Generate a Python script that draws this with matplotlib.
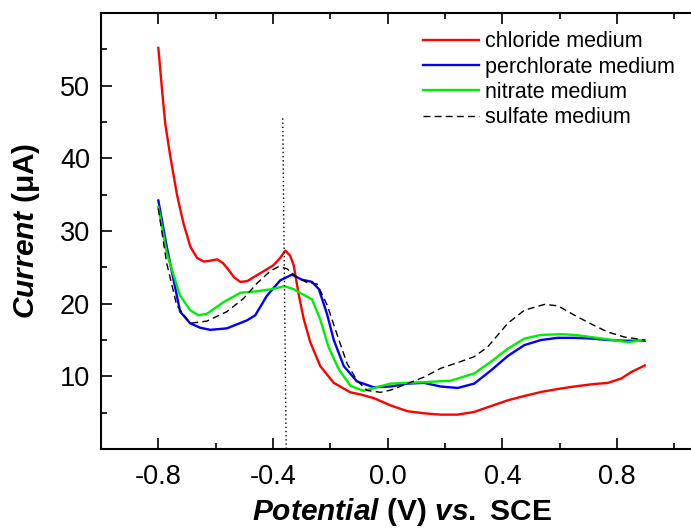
import matplotlib
matplotlib.use("Agg")
import matplotlib.pyplot as plt

plt.rcParams["font.family"] = ["Liberation Sans", "DejaVu Sans"]
plt.rcParams["mathtext.fontset"] = "custom"
plt.rcParams["mathtext.it"] = "Liberation Sans:italic:bold"
plt.rcParams["mathtext.rm"] = "Liberation Sans:bold"

# chloride medium (red)
cl_x = [-0.8, -0.787, -0.776, -0.758, -0.735, -0.712, -0.688, -0.665, -0.642, -0.62, -0.595,
        -0.575, -0.56, -0.535, -0.514, -0.49, -0.444, -0.398, -0.375, -0.357, -0.34, -0.328,
        -0.31, -0.293, -0.27, -0.235, -0.188, -0.13, -0.094, -0.048, 0.01, 0.069, 0.13, 0.185,
        0.244, 0.302, 0.36, 0.419, 0.477, 0.535, 0.6, 0.652, 0.71, 0.768, 0.815, 0.85, 0.897]
cl_y = [55.2, 49.4, 44.8, 40.2, 35.0, 31.0, 27.8, 26.3, 25.8, 25.9, 26.1,
        25.6, 24.9, 23.6, 23.0, 23.1, 24.2, 25.3, 26.3, 27.3, 26.6, 25.3,
        21.2, 17.9, 14.7, 11.4, 9.1, 7.8, 7.5, 7.0, 6.0, 5.2, 4.9, 4.73,
        4.73, 5.1, 5.9, 6.7, 7.3, 7.85, 8.3, 8.6, 8.9, 9.1, 9.7, 10.6, 11.5]

# perchlorate medium (blue)
pc_x = [-0.8, -0.771, -0.724, -0.689, -0.655, -0.619, -0.561, -0.491, -0.462, -0.421,
        -0.375, -0.334, -0.299, -0.264, -0.24, -0.211, -0.188, -0.153, -0.107, -0.049,
        0.01, 0.069, 0.127, 0.185, 0.244, 0.302, 0.36, 0.419, 0.477, 0.535, 0.594,
        0.652, 0.71, 0.768, 0.827, 0.897]
pc_y = [34.2, 27.9, 18.9, 17.3, 16.7, 16.4, 16.6, 17.7, 18.4, 21.1,
        23.2, 24.0, 23.3, 23.0, 22.0, 18.5, 15.0, 11.4, 9.3, 8.5,
        8.6, 9.0, 9.1, 8.6, 8.4, 9.0, 10.8, 12.8, 14.3, 15.0, 15.3,
        15.3, 15.2, 15.0, 14.9, 14.9]

# nitrate medium (green)
ni_x = [-0.8, -0.771, -0.724, -0.689, -0.66, -0.631, -0.573, -0.514, -0.456, -0.404,
        -0.361, -0.328, -0.293, -0.264, -0.235, -0.206, -0.171, -0.13, -0.084, -0.048,
        0.01, 0.069, 0.127, 0.22, 0.302, 0.36, 0.419, 0.477, 0.535, 0.605, 0.652,
        0.71, 0.768, 0.838, 0.897]
ni_y = [33.3, 27.0, 21.1, 19.1, 18.4, 18.6, 20.2, 21.5, 21.7, 22.0,
        22.4, 22.0, 21.2, 20.6, 17.8, 14.0, 11.0, 8.7, 8.0, 8.4,
        9.0, 9.1, 9.2, 9.4, 10.4, 12.0, 13.8, 15.2, 15.7, 15.8, 15.7,
        15.4, 15.1, 14.7, 15.0]

# sulfate medium (black dashed)
su_x = [-0.8, -0.771, -0.736, -0.689, -0.631, -0.561, -0.503, -0.456, -0.409, -0.38,
        -0.351, -0.316, -0.281, -0.246, -0.211, -0.176, -0.141, -0.106, -0.072, -0.025,
        0.01, 0.069, 0.127, 0.185, 0.245, 0.302, 0.349, 0.419, 0.477, 0.547, 0.594,
        0.652, 0.71, 0.768, 0.827, 0.897]
su_y = [33.1, 25.6, 19.8, 17.3, 17.6, 18.9, 20.7, 22.8, 24.5, 25.1,
        24.8, 23.6, 22.9, 22.7, 19.8, 15.7, 11.7, 9.4, 8.06, 7.8,
        8.1, 9.0, 9.9, 11.1, 11.9, 12.7, 14.05, 17.3, 19.1, 19.9, 19.7,
        18.4, 17.2, 16.1, 15.4, 15.0]

# dotted guide line
guide_x = [-0.366, -0.354]
guide_y = [45.5, 0]

fig = plt.figure(figsize=(6.91, 5.31), dpi=100)
ax = fig.add_axes([101 / 691, 82 / 531, 602 / 691, 436 / 531])

ax.plot(cl_x, cl_y, color="#ff0000", lw=1.7, label="chloride medium")
ax.plot(pc_x, pc_y, color="#0000ff", lw=1.7, label="perchlorate medium")
ax.plot(ni_x, ni_y, color="#00ee00", lw=1.7, label="nitrate medium")
ax.plot(su_x, su_y, color="black", lw=1.0, ls=(0, (5, 3)), label="sulfate medium")
ax.plot(guide_x, guide_y, color="black", lw=1.0, ls=(0, (1, 2)))

ax.set_xlim(-1.0, 1.1)
ax.set_ylim(0, 60)
ax.set_xticks([-0.8, -0.4, 0.0, 0.4, 0.8])
ax.set_xticklabels(["-0.8", "-0.4", "0.0", "0.4", "0.8"])
ax.set_xticks([-1.0, -0.6, -0.2, 0.2, 0.6, 1.0], minor=True)
ax.set_yticks([10, 20, 30, 40, 50])
ax.set_yticks([5, 15, 25, 35, 45, 55], minor=True)
ax.tick_params(which="both", direction="in", top=True, labelsize=19.5, width=1.2)
ax.tick_params(axis="x", which="major", length=8, pad=11)
ax.tick_params(axis="y", which="major", length=8, pad=8)
ax.tick_params(which="minor", length=4)
for s in ax.spines.values():
    s.set_linewidth(1.5)

ax.set_xlabel(r"$\it{Potential}$ (V) $\it{vs.}$ SCE", fontsize=21.5, fontweight="bold", labelpad=4)
ax.set_ylabel(r"$\it{Current}$ (μA)", fontsize=21.5, fontweight="bold", labelpad=13)

ax.legend(loc="upper left", bbox_to_anchor=(0.52, 0.978), frameon=False, fontsize=15.5,
          handlelength=2.6, handletextpad=0.3, labelspacing=0.2, borderaxespad=0)

fig.savefig("out.png", dpi=100)
